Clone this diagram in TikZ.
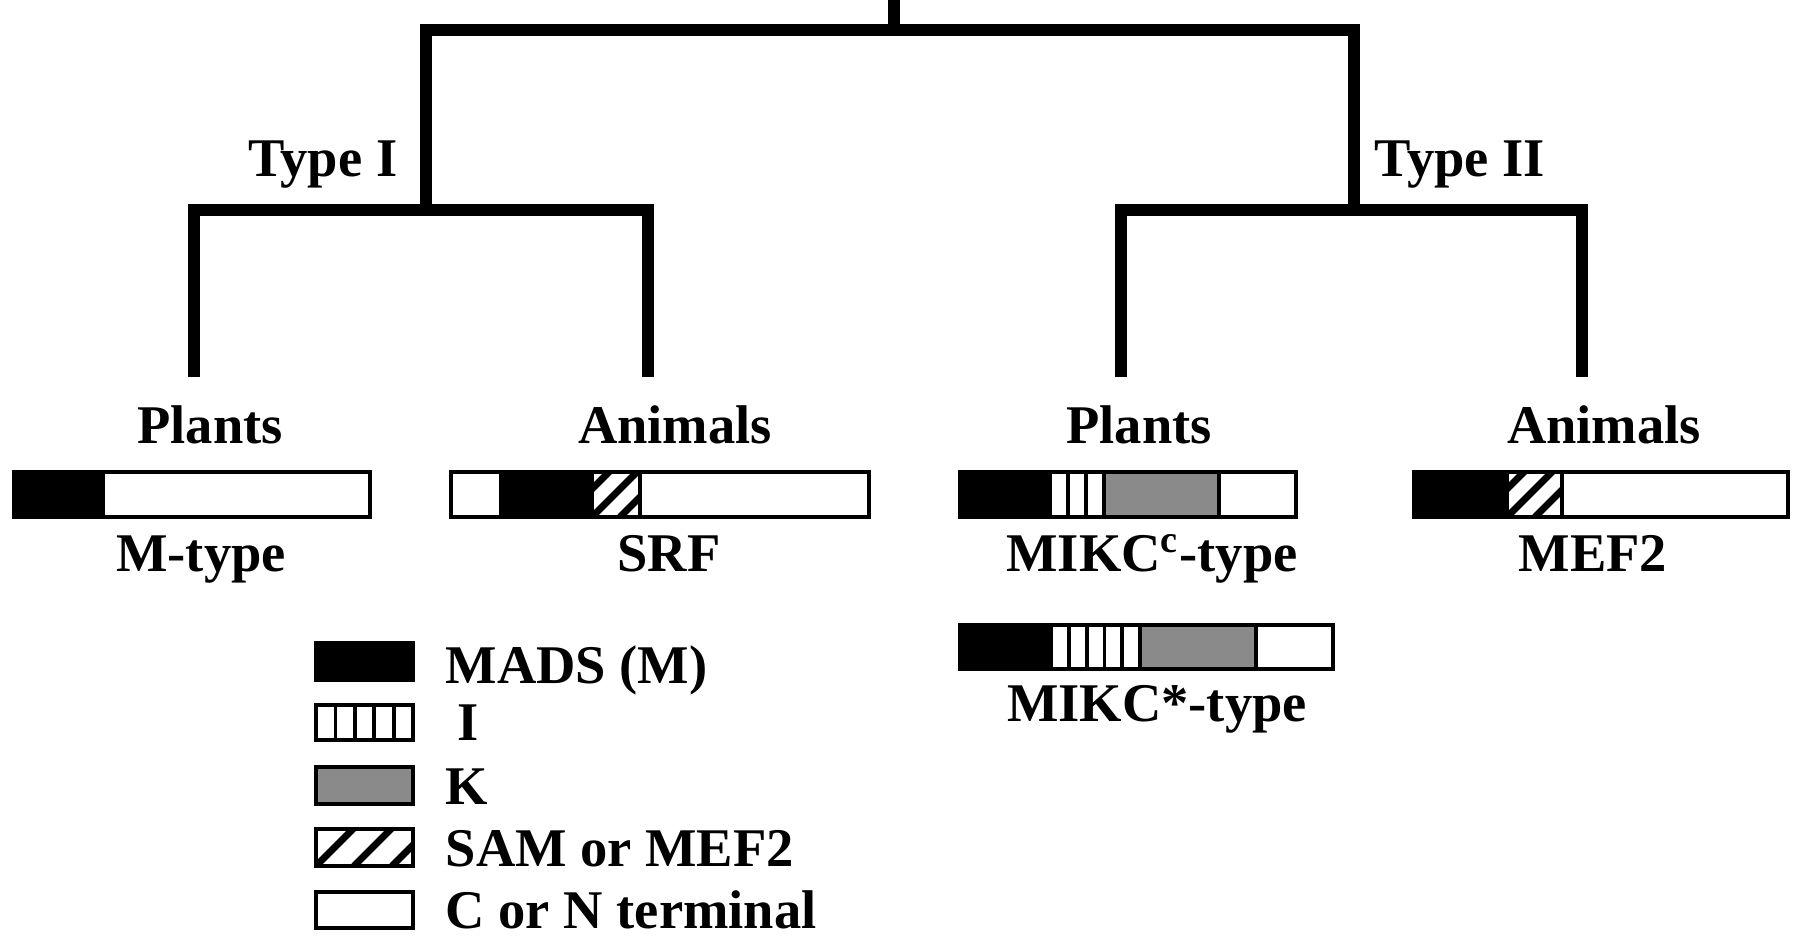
\documentclass[tikz,border=0pt]{standalone}
\usepackage{fontspec}
\setmainfont{Liberation Serif}
\usetikzlibrary{positioning}
\definecolor{kgray}{RGB}{138,138,138}
\tikzset{
  branch/.style={line width=0.12cm,line join=miter},
  lbl/.style   ={font=\fontsize{15.5}{18}\selectfont\bfseries,inner sep=0pt,anchor=base},
  seg/.style   ={draw=black,line width=0.038cm},
  mads/.style  ={seg,fill=black},
  kdom/.style  ={seg,fill=kgray},
  term/.style  ={seg,fill=white},
}
% hatched SAM/MEF2 segment: x1 y1 x2 y2 spacing
\newcommand{\hatchseg}[5]{%
  \begin{scope}
    \clip (#1,#2) rectangle (#3,#4);
    \foreach \k in {-3,...,5}
      \draw[line width=0.07cm] ({#1+\k*#5},#4) -- ++(80,-80);
  \end{scope}
  \draw[seg] (#1,#2) rectangle (#3,#4);}
% I segment with cells: x1 y1 x2 y2 cells
\newcommand{\iseg}[5]{%
  \draw[term] (#1,#2) rectangle (#3,#4);
  \foreach \c in {1,...,#5}
    \draw[seg] ({#1+\c*(#3-#1)/#5},#2) -- ({#1+\c*(#3-#1)/#5},#4);}

\begin{document}
\begin{tikzpicture}[x=0.01cm,y=-0.01cm]
  \path[fill=white,use as bounding box] (0,0) rectangle (1800,941);
  % tree
  \coordinate (top)  at (894,0);
  \coordinate (root) at (894,30);
  \coordinate (nI)   at (426,210);
  \coordinate (nII)  at (1354,210);
  \coordinate (lf1)  at (194,377);
  \coordinate (lf2)  at (648,377);
  \coordinate (lf3)  at (1121,377);
  \coordinate (lf4)  at (1582,377);
  \draw[branch] (top) -- (root);
  \draw[branch] (nI) |- (root) -| (nII);
  \draw[branch] (lf1) |- (nI) -| (lf2);
  \draw[branch] (lf3) |- (nII) -| (lf4);
  \node[lbl,anchor=base east] (typeI)  at (398,176)  {Type I};
  \node[lbl,anchor=base west] (typeII) at (1374,176) {Type II};
  \node[lbl] (plantsI)   at (210,443)  {Plants};
  \node[lbl] (animalsI)  at (675,443)  {Animals};
  \node[lbl] (plantsII)  at (1139,443) {Plants};
  \node[lbl] (animalsII) at (1604,443) {Animals};
  % M-type
  \draw[term] (14,472) rectangle (370,517);
  \draw[mads] (14,472) rectangle (103,517);
  \node[lbl] (mtype) at (201,571) {M-type};
  % SRF
  \draw[term] (451,472) rectangle (869,517);
  \draw[mads] (501,472) rectangle (592,517);
  \hatchseg{592}{472}{640}{517}{28}
  \node[lbl] (srf) at (669,571) {SRF};
  % MIKCc
  \draw[term] (960,472) rectangle (1296,517);
  \draw[mads] (960,472) rectangle (1050,517);
  \iseg{1050}{472}{1104}{517}{3}
  \draw[kdom] (1104,472) rectangle (1219,517);
  \node[lbl] (mikcc) at (1152,571) {MIKC\textsuperscript{c}-type};
  % MEF2
  \draw[term] (1414,472) rectangle (1788,517);
  \draw[mads] (1414,472) rectangle (1507,517);
  \hatchseg{1507}{472}{1562}{517}{28}
  \node[lbl] (mef2) at (1593,571) {MEF2};
  % MIKC*
  \draw[term] (960,625) rectangle (1333,669);
  \draw[mads] (960,625) rectangle (1051,669);
  \iseg{1051}{625}{1140}{669}{5}
  \draw[kdom] (1140,625) rectangle (1256,669);
  \node[lbl] (mikcs) at (1157,721) {MIKC*-type};
  % legend
  \draw[mads] (316,643) rectangle (413,680);
  \iseg{316}{705}{413}{740}{5}
  \draw[kdom] (316,767) rectangle (413,804);
  \hatchseg{316}{829}{413}{866}{38}
  \draw[term] (316,892) rectangle (413,928);
  \node[lbl,anchor=base west] (lgm) at (445,683) {MADS (M)};
  \node[lbl,anchor=base west] (lgi) at (457,740) {I};
  \node[lbl,anchor=base west] (lgk) at (445,804) {K};
  \node[lbl,anchor=base west] (lgs) at (445,866) {SAM or MEF2};
  \node[lbl,anchor=base west] (lgc) at (445,928) {C or N terminal};
\end{tikzpicture}
\end{document}
